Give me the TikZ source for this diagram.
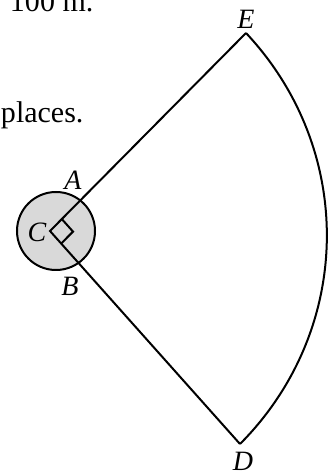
\documentclass[tikz,border=0pt]{standalone}
\usepackage{fontspec}
\setmainfont{Liberation Serif}
\usetikzlibrary{calc, math}
\definecolor{qgray}{RGB}{217,217,217}

\begin{document}
\begin{tikzpicture}[x=0.5pt, y=-0.5pt, line width=1pt,
  lbl/.style={font=\fontsize{14}{16}\selectfont\itshape, inner sep=0pt},
  txt/.style={font=\fontsize{15}{18}\selectfont, inner sep=0pt, anchor=base west}]

\tikzmath{
\R = 39;%circle radius
\s = 8.4;%right angle mark, pt
}
\useasboundingbox (0,0) rectangle (328,474);
\clip (0,0) rectangle (328,474);

\node[txt] (t1) at (9,12) {100 m.};
\node[txt] (t2) at (0,123) {places.};

\coordinate (C) at (50,231);
\coordinate (E) at (246,33);
\coordinate (D) at (240,444);

\filldraw[fill=qgray] (56,231) circle (\R);
\draw (E) -- (C) -- (D);
\draw (E) to[bend left=44] (D);

% right angle
\coordinate (ma) at ($(C)!\s pt!(E)$);
\coordinate (mb) at ($(C)!\s pt!(D)$);
\coordinate (mc) at ($(ma)+(mb)-(C)$);
\draw (ma) -- (mc) -- (mb);

\node[lbl] (lE) at (246,19) {E};
\node[lbl] (lA) at (73,180) {A};
\node[lbl] (lC) at (37,232) {C};
\node[lbl] (lB) at (70,286) {B};
\node[lbl] (lD) at (243,461) {D};

\end{tikzpicture}
\end{document}
